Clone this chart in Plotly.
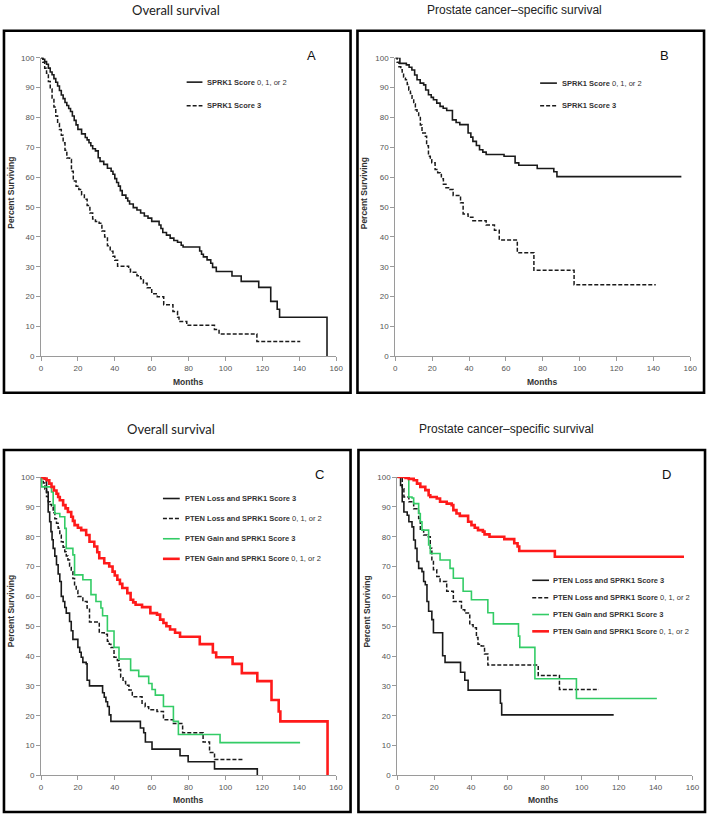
import plotly.graph_objects as go

# ---------------- data ----------------
months_ticks = [0, 20, 40, 60, 80, 100, 120, 140, 160]
pct_ticks = [0, 10, 20, 30, 40, 50, 60, 70, 80, 90, 100]

# Panel A: overall survival
A_s012_t = [0, 1, 2, 3, 4, 5, 6, 7, 8, 9, 10, 11, 12, 13, 14, 15, 16, 17, 18, 19, 20, 22, 24, 25, 26, 27, 28, 29.5, 31, 32,
            34, 36, 38, 39, 40, 41, 42, 43, 44, 46, 47, 48, 50, 52, 54, 56, 58, 60, 64, 65, 66, 68, 70, 72, 74, 76, 77, 86, 87, 88,
            90, 92, 93, 95, 103.5, 108.5, 118, 124.5, 128, 129.3, 155]
A_s012_v = [100, 99.5, 98.7, 97.8, 96.5, 95.2, 94.3, 93, 91.8, 90.5, 89, 87.5, 86.3, 85, 84, 83, 82, 80.5, 79, 77.5,
            76, 74.5, 73.3, 72.5, 71.5, 70.5, 69.5, 68.8, 66.5, 65.3, 64.3, 63, 62, 61, 59.5, 58.2, 57, 55.5, 54, 53,
            52, 51, 49.8, 49, 48, 47, 46.3, 45.2, 44, 42.8, 41.5, 40.6, 39.6, 38.8, 38.2, 37.2, 36.6, 35.3, 34.2, 33.3,
            32.3, 31.2, 29.8, 28.4, 26.9, 25.1, 23.1, 18.4, 15.8, 13.1, 0]
A_s3_t = [0, 1, 2, 3, 4, 5, 6, 7, 8, 9, 10, 11, 12, 13, 14, 15.5, 16.5, 17.5, 19, 20.5, 22, 23.5, 25, 26.5, 28,
          29.5, 31.5, 33, 34.5, 36, 37.5, 39, 40, 41.5, 47.5, 48.5, 52, 54, 55.5, 57.5, 60, 63, 66.5, 71.5, 74,
          74.8, 79, 94, 96.5, 117, 140.5]
A_s3_v = [100, 98.5, 96.5, 94.8, 92, 89.5, 86.5, 83.5, 80.5, 78, 76, 74, 71.5, 69, 66.4, 65.9, 62, 58.7, 57, 55.9,
          54, 52.6, 50.5, 48, 46, 45.2, 44.6, 42, 40, 37, 35.2, 33.5, 32.2, 30.2, 29.2, 28.2, 27, 26, 24.5, 23,
          21, 20, 17.3, 15, 13.1, 11.7, 10.4, 9.0, 7.5, 5.0, 5.0]

# Panel B: prostate cancer-specific survival
B_s012_t = [0, 2.5, 6, 7.5, 9, 10.5, 11.8, 13.5, 15.4, 16.5, 18, 19.5, 20.7, 22.5, 24.3, 26, 27.9, 31, 33, 35,
            39.5, 41, 42.1, 44, 45.7, 47.5, 49.3, 59, 65, 67, 77, 86, 87.7, 155.2]
B_s012_v = [100, 98.1, 97.6, 96.8, 95.9, 94.2, 92.6, 91.5, 90.9, 89.2, 87.6, 86.7, 85.9, 84.8, 83.7, 83.1, 82.3, 79.2, 78.3, 77.6,
            74.8, 73.4, 72, 70.6, 69.2, 68.4, 67.6, 67, 64.8, 64, 62.9, 61.8, 60.2, 60.2]
B_s3_t = [0, 1, 2, 3, 3.75, 4.5, 5.5, 6.5, 7.3, 8.2, 9.1, 10, 10.9, 11.8, 12.7, 13.6, 14.5, 16.3, 17, 18,
          19, 19.8, 21.6, 23, 24.3, 25, 26.1, 27.5, 29.6, 31.4, 35.4, 36.8, 39.5, 42.1, 49.3, 53.8, 56.4, 66.2, 75.2, 97, 141.3]
B_s3_v = [100, 98.5, 97, 96, 94.8, 93.5, 92.6, 91, 89.2, 88, 86.4, 84.5, 82.6, 81.5, 80.3, 77.5, 74.8, 73.7, 70.5, 67,
          65.8, 64.8, 62.6, 61.5, 60.9, 59.5, 57.6, 56.5, 55.9, 53.9, 51.4, 47.7, 46.6, 45.4, 44, 42.2, 39, 34.7, 28.8, 24, 24]

# Panel C: overall survival by PTEN / SPRK1
C_loss3_t = [0, 2, 3, 3.9, 4.7, 5.4, 6, 6.6, 7.5, 8.4, 9.3, 10.2, 11, 12, 12.9, 13.7, 15.5, 16.4, 17.3, 20,
             21, 21.8, 22.7, 24.5, 25, 26.3, 33.4, 34.3, 35.2, 36.1, 37, 37.9, 53.9, 55.7, 56.6, 60.2, 75.4, 79.8, 94.1, 117.3]
C_loss3_v = [100, 99.4, 95, 88.3, 85, 81.7, 79, 76.1, 73.5, 70.6, 67.5, 65, 60, 58.3, 56.3, 54.4, 51.6, 48.5, 45.6, 42.9,
             41.3, 39.6, 37.9, 37.4, 31.9, 30, 27.7, 26.2, 24.7, 23.1, 20.3, 18.1, 15.9, 14.3, 11.2, 8.8, 6.6, 4.6, 2.2, 0]
C_loss012_t = [0, 1.25, 2.1, 3, 3.9, 5, 5.7, 6.6, 7.5, 8.4, 9.3, 10.2, 11, 12, 12.9, 13.7, 14.6, 15.5, 16.4, 17.3,
               18.2, 19.1, 20, 22.7, 25, 26.3, 31.6, 34.3, 36, 37, 37.9, 39.6, 41.4, 42.3, 43.2, 44.5, 45.9, 47.7, 49.5, 54.8,
               56.5, 58.4, 62.9, 66.4, 71.8, 76.8, 87.9, 91.4, 94.1, 109.3]
C_loss012_v = [100, 98, 96, 93.5, 91.7, 90.8, 90, 88, 86, 84.5, 82.8, 80.5, 78.3, 76.5, 75, 73.5, 72.2, 70.2, 68.3, 66,
               63.9, 62, 60, 58.3, 56.1, 51.4, 47.8, 47.3, 45, 44, 42.9, 39.6, 38.5, 35.5, 33, 31.5, 30.2, 28.6, 26.4, 24.2,
               23, 22, 21.4, 18.7, 17.4, 14.3, 11.2, 7.7, 5.3, 5.3]
C_gain3_t = [0, 0.4, 5.7, 6.6, 7.5, 10.2, 12.9, 13.7, 17.3, 18.2, 22.7, 27.1, 29.8, 32.5, 33.4, 36, 39.6, 42.3, 48.6, 53,
             58.4, 60.2, 62, 66.4, 71.8, 74.5, 97.1, 140.5]
C_gain3_v = [100, 96.7, 95, 90.6, 87.8, 86.7, 82.8, 76.1, 73.9, 67.2, 65.6, 60.6, 58.3, 56.1, 53.5, 48.4, 42.9, 39, 35.2, 33.2,
             30.8, 28.8, 26.9, 23.1, 18.1, 13.7, 11, 11]
C_gain012_t = [0, 1.5, 3, 4.5, 5.7, 7, 8.4, 9.3, 10.2, 12, 13.3, 14.6, 16.4, 17.3, 18.2, 20, 21.8, 24.5, 26.3, 28.9,
               30.5, 31.6, 34.3, 37, 38.8, 40, 41.4, 42.8, 44.1, 46.8, 48.6, 50, 51.3, 54.8, 59.3, 62.9, 64.6, 66.4, 68, 70,
               72.7, 75.4, 86.1, 93.2, 95, 103.9, 108.9, 117.3, 125, 128.9, 129.8, 155.4]
C_gain012_v = [100, 99.5, 98.9, 97.8, 96.7, 95.5, 94.4, 93.3, 92.2, 90.6, 89.5, 88.3, 86.7, 85.3, 83.9, 83, 82.2, 80.6, 78.3, 76.7,
               74.8, 72.8, 71.1, 70, 68.3, 67, 65.6, 64.2, 62.8, 61.1, 58.9, 58, 57.2, 56.4, 54.4, 53.9, 52.2, 51.1, 50, 48.9,
               47.8, 46.5, 44, 41.2, 39.6, 37.4, 34.3, 31.6, 25.3, 21.4, 18.1, 0]

# Panel D: prostate cancer-specific survival by PTEN / SPRK1
D_loss3_t = [0, 1.8, 2.7, 3.6, 5.4, 6.3, 8, 8.9, 9.8, 10.7, 11.6, 13.4, 14.3, 15.2, 16.1, 17, 18.75, 19.6, 24.6, 25.9,
             34.3, 36.6, 38.4, 55.9, 56.6, 117.3]
D_loss3_v = [100, 97.2, 91.7, 88.3, 87.2, 85, 83.3, 78.9, 76.1, 71.7, 69.4, 68.3, 65, 63.9, 58.3, 55, 52.2, 47.8, 40.1, 37.9,
             34.6, 31.9, 28.6, 24.2, 20.3, 20.3]
D_loss012_t = [0, 2.7, 3.6, 6.3, 8.9, 11.6, 12.5, 14.3, 16.1, 17.9, 18.75, 19.6, 21.4, 23.2, 26.8, 30.4, 34.8, 36.6, 39.3, 41.1,
               42.9, 43.75, 45.5, 47.3, 49.1, 76.4, 87.9, 109.3]
D_loss012_v = [100, 96.1, 93.3, 91.7, 89.4, 86.1, 82.2, 80.6, 80, 76.1, 71.7, 68.9, 66.7, 65, 61.7, 58.3, 55.5, 54.4, 50.5, 49.5,
               46.2, 44, 43.4, 40.7, 37, 33.5, 28.8, 28.8]
D_gain3_t = [0, 6.25, 8, 8.9, 11.6, 12.5, 13.4, 17, 17.9, 23.2, 28.6, 30.4, 35.7, 40.2, 49.1, 52.1, 65.7, 66.4, 74.6, 97.1, 140.7]
D_gain3_v = [100, 93.3, 93, 91.1, 87.8, 85, 82.2, 77.2, 74.4, 72.2, 69.4, 66.1, 61.7, 58.9, 54.5, 50.8, 46.7, 42.9, 32.4, 25.8, 25.8]
D_gain012_t = [0, 4.5, 6.25, 8.9, 10.7, 12.5, 15.2, 17, 17.9, 21.4, 23.2, 26.8, 29.5, 30.4, 32.1, 33.9, 38.4, 40.2, 42, 43.75,
               46.4, 47.3, 50, 58, 63.4, 65.2, 66.1, 85.4, 155.4]
D_gain012_v = [100, 99.7, 99.4, 98.9, 97.8, 96.7, 95.6, 93.9, 93.3, 92.8, 91.7, 91.1, 90.6, 88.9, 87.8, 87, 85, 83.9, 83, 82.2,
               81.7, 80.8, 80, 79.2, 77.8, 76.7, 75.2, 73.3, 73.3]

titles = ["Overall survival", "Prostate cancer\u2013specific survival", "Overall survival", "Prostate cancer\u2013specific survival"]
letters = ["A", "B", "C", "D"]
legend_AB = ["<b>SPRK1 Score</b> 0, 1, or 2", "<b>SPRK1 Score 3</b>"]
legend_CD = ["<b>PTEN Loss and SPRK1 Score 3</b>", "<b>PTEN Loss and SPRK1 Score</b> 0, 1, or 2",
             "<b>PTEN Gain and SPRK1 Score 3</b>", "<b>PTEN Gain and SPRK1 Score</b> 0, 1, or 2"]

# ---------------- styling / layout ----------------
W, H = 714, 819
def fx(p):
    return p / W
def fy(p):
    return 1 - p / H

BLACK = "#1a1a1a"
GREEN = "#33cc66"
RED = "#ff1a1a"
style_solid = dict(color=BLACK, width=1.6)
style_dash = dict(color=BLACK, width=1.5, dash="4px,2px")
style_green = dict(color=GREEN, width=1.6)
style_red = dict(color=RED, width=2.6)

fig = go.Figure()

series = [
    ("", A_s012_t, A_s012_v, style_solid), ("", A_s3_t, A_s3_v, style_dash),
    ("2", B_s012_t, B_s012_v, style_solid), ("2", B_s3_t, B_s3_v, style_dash),
    ("3", C_loss3_t, C_loss3_v, style_solid), ("3", C_loss012_t, C_loss012_v, style_dash),
    ("3", C_gain3_t, C_gain3_v, style_green), ("3", C_gain012_t, C_gain012_v, style_red),
    ("4", D_loss3_t, D_loss3_v, style_solid), ("4", D_loss012_t, D_loss012_v, style_dash),
    ("4", D_gain3_t, D_gain3_v, style_green), ("4", D_gain012_t, D_gain012_v, style_red),
]
for sfx, t, v, st in series:
    fig.add_trace(go.Scatter(x=t, y=v, mode="lines", line=dict(shape="hv", **st),
                             xaxis="x" + sfx, yaxis="y" + sfx, showlegend=False, hoverinfo="skip"))

# panel geometry in pixels: (x0, x160, y100, y0)
geo = [(39.5, 338.5, 54.3, 356.3), (398.3, 697.0, 54.3, 356.3),
       (39.5, 338.3, 478.3, 780.0), (400.3, 699.3, 478.3, 780.0)]
boxes = [(2, 27, 353, 393), (360, 27, 711, 393), (2, 451, 353, 817), (361, 451, 712, 817)]
title_pos = [(176, 6), (519, 6), (171, 430), (511, 430)]
letter_pos = [(313, 52), (671, 52), (322, 476), (673, 476)]
ytitle_pos = [(9, 191), (367, 191), (9, 614), (370, 614)]
xtitle_pos = [(188, 382), (547, 382), (188, 805), (548, 805)]

tickfont = dict(family="Liberation Sans, Arial", size=8, color="#555555")
layout = dict(width=W, height=H, margin=dict(l=0, r=0, t=0, b=0), autosize=False,
              paper_bgcolor="white", plot_bgcolor="white")
for i, (x0, x1, y1, y0) in enumerate(geo):
    sfx = "" if i == 0 else str(i + 1)
    layout["xaxis" + sfx] = dict(domain=[fx(x0), fx(x1)], range=[0, 160], tickvals=months_ticks,
                                 anchor="y" + sfx, showgrid=False, zeroline=False, showline=True,
                                 linecolor="#9a9a9a", linewidth=1, ticks="outside", ticklen=4,
                                 tickcolor="#9a9a9a", tickfont=tickfont, fixedrange=True)
    layout["yaxis" + sfx] = dict(domain=[fy(y0), fy(y1)], range=[0, 100], tickvals=pct_ticks,
                                 anchor="x" + sfx, showgrid=False, zeroline=False, showline=True,
                                 linecolor="#9a9a9a", linewidth=1, ticks="outside", ticklen=4,
                                 tickcolor="#9a9a9a", tickfont=tickfont, fixedrange=True)
fig.update_layout(**layout)

shapes = []
annotations = []
for i in range(4):
    bx0, by0, bx1, by1 = boxes[i]
    shapes.append(dict(type="rect", xref="paper", yref="paper", x0=fx(bx0), x1=fx(bx1), y0=fy(by1), y1=fy(by0),
                       line=dict(color="black", width=2.6)))
    tx, ty = title_pos[i]
    tfont = dict(family="Lato, Carlito, sans-serif", size=13, color="#222") if i in (0, 2) else \
        dict(family="Liberation Sans, Arial", size=12, color="#222")
    annotations.append(dict(text=titles[i], x=fx(tx), y=fy(ty), xref="paper", yref="paper",
                            showarrow=False, xanchor="center", yanchor="middle", font=tfont))
    lx, ly = letter_pos[i]
    annotations.append(dict(text=letters[i], x=fx(lx), y=fy(ly), xref="paper", yref="paper", showarrow=False,
                            xanchor="center", yanchor="middle",
                            font=dict(family="Liberation Sans, Arial", size=13, color="#111")))
    yx, yy = ytitle_pos[i]
    annotations.append(dict(text="<b>Percent Surviving</b>", x=fx(yx), y=fy(yy), xref="paper", yref="paper",
                            showarrow=False, textangle=-90, xanchor="center", yanchor="middle",
                            font=dict(family="Liberation Sans, Arial", size=8.5, color="#333")))
    xx, xy = xtitle_pos[i]
    annotations.append(dict(text="<b>Months</b>", x=fx(xx), y=fy(xy), xref="paper", yref="paper",
                            showarrow=False, xanchor="center", yanchor="middle",
                            font=dict(family="Liberation Sans, Arial", size=8.5, color="#333")))

# legends (drawn manually)
leg_specs = [
    ((187, 203, 206), [79, 103], legend_AB, [style_solid, style_dash]),
    ((545, 562, 565), [80, 103], legend_AB, [style_solid, style_dash]),
    ((163, 180, 183), [500, 520.3, 540.7, 561], legend_CD, [style_solid, style_dash, style_green, style_red]),
    ((537, 554, 556), [582.7, 600.3, 617.3, 634.3], legend_CD, [style_solid, style_dash, style_green, style_red]),
]
for (lx0, lx1, tx), ys, labels, styles in leg_specs:
    for yv, lab, st in zip(ys, labels, styles):
        sl = dict(color=st["color"], width=st["width"])
        if "dash" in st:
            sl["dash"] = st["dash"]
        shapes.append(dict(type="line", xref="paper", yref="paper", x0=fx(lx0), x1=fx(lx1), y0=fy(yv), y1=fy(yv),
                           line=sl))
        annotations.append(dict(text=lab, x=fx(tx), y=fy(yv), xref="paper", yref="paper", showarrow=False,
                                xanchor="left", yanchor="middle",
                                font=dict(family="Liberation Sans, Arial", size=7.5, color="#333")))

fig.update_layout(shapes=shapes, annotations=annotations)
fig.write_html("out.html", config={"displayModeBar": False},
               post_script="document.body.style.margin='0';document.body.style.padding='0';")
